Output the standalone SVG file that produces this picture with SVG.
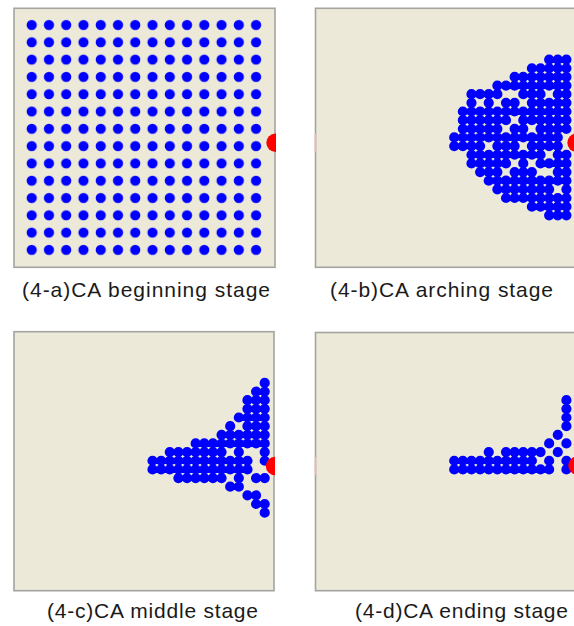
<svg xmlns="http://www.w3.org/2000/svg" width="574" height="626" viewBox="0 0 574 626">
<style>
.frame{fill:#ece9d8;stroke:#a4a4a0;stroke-width:1.6}
.dots{fill:none;stroke:#0000ff;stroke-width:10.2;stroke-linecap:round}
.red{fill:#ff0000}
.pink{stroke:#f2b4b4;stroke-width:1.6}
.lbl{font-family:"Liberation Sans",Arial,sans-serif;font-size:21px;fill:#1a1a1a}
</style>
<defs>
<pattern id="grid" x="23.07" y="16.35" width="17.26" height="17.3" patternUnits="userSpaceOnUse">
<circle cx="8.63" cy="8.65" r="5.1" fill="#0000ff"/>
</pattern>
<clipPath id="clipA"><rect x="14" y="8.3" width="262" height="259"/></clipPath>
<clipPath id="clipC"><rect x="14" y="331.7" width="261" height="259"/></clipPath>
</defs>
<rect width="574" height="626" fill="#ffffff"/>

<g id="panel-a">
<rect class="frame" x="14" y="8.3" width="261" height="259"/>
<rect x="23.07" y="16.35" width="241.64" height="242.2" fill="url(#grid)"/>
<circle class="red" cx="275.5" cy="142.7" r="9.2" clip-path="url(#clipA)"/>
<text class="lbl" x="22" y="297" textLength="248" lengthAdjust="spacing">(4-a)CA beginning stage</text>
</g>

<g id="panel-b">
<rect class="frame" x="315.5" y="8.3" width="270" height="259"/>
<line class="pink" x1="315.5" y1="134" x2="315.5" y2="152"/>
<path class="dots" d="M549.15 59.6h0m8.63 0h0m8.63 0h0
M531.89 68.25h0m8.63 0h0m8.63 0h0m8.63 0h0m8.63 0h0
M514.63 76.9h0m8.63 0h0m8.63 0h0m8.63 0h0m8.63 0h0m8.63 0h0m8.63 0h0
M497.37 85.55h0m8.63 0h0m8.63 0h0m8.63 0h0m8.63 0h0m8.63 0h0m8.63 0h0m8.63 0h0m8.63 0h0
M471.48 94.2h0m8.63 0h0m8.63 0h0m8.63 0h0m25.89 0h0m8.63 0h0m8.63 0h0m17.26 0h0m8.63 0h0
M471.48 102.85h0m17.26 0h0m17.26 0h0m8.63 0h0m17.26 0h0m8.63 0h0m8.63 0h0m8.63 0h0m8.63 0h0
M462.85 111.5h0m8.63 0h0m8.63 0h0m8.63 0h0m8.63 0h0m8.63 0h0m8.63 0h0m8.63 0h0m8.63 0h0m8.63 0h0m8.63 0h0m8.63 0h0m8.63 0h0
M462.85 120.15h0m8.63 0h0m8.63 0h0m8.63 0h0m8.63 0h0m8.63 0h0m17.26 0h0m8.63 0h0m8.63 0h0m8.63 0h0m8.63 0h0m8.63 0h0
M462.85 128.8h0m8.63 0h0m8.63 0h0m8.63 0h0m8.63 0h0m17.26 0h0m8.63 0h0m17.26 0h0m8.63 0h0m8.63 0h0m8.63 0h0
M454.22 137.45h0m8.63 0h0m8.63 0h0m8.63 0h0m8.63 0h0m8.63 0h0m8.63 0h0m8.63 0h0m8.63 0h0m8.63 0h0m8.63 0h0m8.63 0h0m8.63 0h0
M454.22 146.1h0m8.63 0h0m8.63 0h0m8.63 0h0m17.26 0h0m8.63 0h0m8.63 0h0m17.26 0h0m8.63 0h0m8.63 0h0m8.63 0h0
M471.48 154.75h0m8.63 0h0m8.63 0h0m8.63 0h0m8.63 0h0m8.63 0h0m8.63 0h0m8.63 0h0m8.63 0h0m17.26 0h0m8.63 0h0
M471.48 163.4h0m8.63 0h0m8.63 0h0m8.63 0h0m8.63 0h0m17.26 0h0m17.26 0h0m8.63 0h0m8.63 0h0m8.63 0h0
M480.11 172.05h0m8.63 0h0m8.63 0h0m17.26 0h0m8.63 0h0m8.63 0h0m25.89 0h0m8.63 0h0
M488.74 180.7h0m8.63 0h0m8.63 0h0m8.63 0h0m8.63 0h0m8.63 0h0m8.63 0h0m8.63 0h0m8.63 0h0m8.63 0h0
M497.37 189.35h0m8.63 0h0m8.63 0h0m8.63 0h0m8.63 0h0m8.63 0h0m8.63 0h0m17.26 0h0
M506 198h0m8.63 0h0m8.63 0h0m8.63 0h0m8.63 0h0m8.63 0h0m8.63 0h0m8.63 0h0
M531.89 206.65h0m8.63 0h0m8.63 0h0m8.63 0h0m8.63 0h0
M549.15 215.3h0m8.63 0h0m8.63 0h0"/>
<circle class="red" cx="576.5" cy="142.7" r="9.2"/>
<text class="lbl" x="330" y="297" textLength="223" lengthAdjust="spacing">(4-b)CA arching stage</text>
</g>

<g id="panel-c">
<rect class="frame" x="14" y="331.7" width="260" height="259"/>
<path class="dots" d="M264.71 382.9h0
M256.08 391.55h0m8.63 0h0
M247.45 400.2h0m8.63 0h0m8.63 0h0
M247.45 408.85h0m8.63 0h0m8.63 0h0
M238.82 417.5h0m8.63 0h0m8.63 0h0m8.63 0h0
M230.19 426.15h0m17.26 0h0m8.63 0h0m8.63 0h0
M221.56 434.8h0m8.63 0h0m8.63 0h0m8.63 0h0m8.63 0h0m8.63 0h0
M195.67 443.45h0m8.63 0h0m8.63 0h0m8.63 0h0m8.63 0h0m8.63 0h0m8.63 0h0m8.63 0h0m8.63 0h0
M169.78 452.1h0m8.63 0h0m8.63 0h0m8.63 0h0m8.63 0h0m8.63 0h0m8.63 0h0m17.26 0h0m25.89 0h0
M152.52 460.75h0m8.63 0h0m8.63 0h0m8.63 0h0m8.63 0h0m8.63 0h0m8.63 0h0m8.63 0h0m8.63 0h0m8.63 0h0m8.63 0h0m8.63 0h0m17.26 0h0
M152.52 469.4h0m8.63 0h0m8.63 0h0m8.63 0h0m8.63 0h0m8.63 0h0m8.63 0h0m8.63 0h0m8.63 0h0m8.63 0h0m8.63 0h0m8.63 0h0
M178.41 478.05h0m8.63 0h0m8.63 0h0m8.63 0h0m8.63 0h0m8.63 0h0m17.26 0h0m17.26 0h0m8.63 0h0
M230.19 486.7h0m8.63 0h0
M247.45 495.35h0m8.63 0h0
M256.08 504h0m8.63 0h0
M264.71 512.65h0"/>
<circle class="red" cx="275" cy="466" r="9.2" clip-path="url(#clipC)"/>
<text class="lbl" x="47" y="618" textLength="211" lengthAdjust="spacing">(4-c)CA middle stage</text>
</g>

<g id="panel-d">
<rect class="frame" x="315.5" y="332.5" width="270" height="258.2"/>
<line class="pink" x1="315.5" y1="457" x2="315.5" y2="475"/>
<path class="dots" d="M566.41 400.2h0
M566.41 408.85h0
M566.41 417.5h0
M566.41 426.15h0
M557.78 434.8h0
M549.15 443.45h0m17.26 0h0
M488.74 452.1h0m17.26 0h0m8.63 0h0m8.63 0h0m8.63 0h0m8.63 0h0m17.26 0h0
M454.22 460.75h0m8.63 0h0m8.63 0h0m8.63 0h0m8.63 0h0m8.63 0h0m8.63 0h0m8.63 0h0m8.63 0h0m8.63 0h0m17.26 0h0m17.26 0h0
M454.22 469.4h0m8.63 0h0m8.63 0h0m8.63 0h0m8.63 0h0m8.63 0h0m8.63 0h0m8.63 0h0m8.63 0h0m8.63 0h0m8.63 0h0m8.63 0h0m17.26 0h0"/>
<circle class="red" cx="577.5" cy="465.5" r="9.2"/>
<text class="lbl" x="355" y="618" textLength="213" lengthAdjust="spacing">(4-d)CA ending stage</text>
</g>
</svg>
